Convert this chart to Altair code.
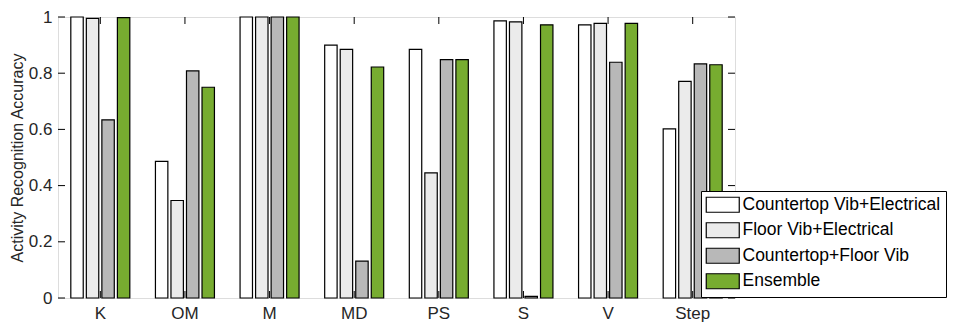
import altair as alt
import pandas as pd

categories = ["K", "OM", "M", "MD", "PS", "S", "V", "Step"]
series = ["Countertop Vib+Electrical", "Floor Vib+Electrical", "Countertop+Floor Vib", "Ensemble"]
colors = ["#ffffff", "#ebebeb", "#b8b8b8", "#77ac30"]

countertop_elec = [1.0, 0.486, 1.0, 0.900, 0.885, 0.986, 0.972, 0.602]
floor_elec = [0.995, 0.347, 1.0, 0.885, 0.445, 0.983, 0.977, 0.771]
counter_floor = [0.634, 0.808, 1.0, 0.131, 0.848, 0.006, 0.839, 0.833]
ensemble = [0.998, 0.750, 1.0, 0.822, 0.848, 0.972, 0.977, 0.830]

y_ticks = [0, 0.2, 0.4, 0.6, 0.8, 1.0]

LEFT, TOP = 58, 17
W, H = 677, 281
TICK = 7

rows = []
for s, vals in zip(series, [countertop_elec, floor_elec, counter_floor, ensemble]):
    for c, v in zip(categories, vals):
        rows.append({"cat": c, "series": s, "value": v})
df = pd.DataFrame(rows)
cat_df = pd.DataFrame({"cat": categories})
yt_df = pd.DataFrame({"v": y_ticks})

xscale = alt.Scale(domain=categories, paddingInner=0, paddingOuter=0)
yscale = alt.Scale(domain=[0, 1], nice=False)

bars = alt.Chart(df).mark_bar(stroke="black", strokeWidth=1.2).encode(
    x=alt.X("cat:N", scale=xscale, sort=categories,
            axis=alt.Axis(title=None, labelAngle=0, labelAlign="center", labelBaseline="top",
                          ticks=False, domain=False,
                          labelFontSize=17, labelPadding=7, labelColor="#262626")),
    xOffset=alt.XOffset("series:N", sort=series,
                        scale=alt.Scale(domain=series, paddingInner=0.2, paddingOuter=0.825)),
    y=alt.Y("value:Q", scale=yscale,
            axis=alt.Axis(title="Activity Recognition Accuracy", values=y_ticks,
                          ticks=False, domain=False, grid=False,
                          labelExpr="datum.value == 0 ? '0' : datum.value == 1 ? '1' : format(datum.value, '.1f')",
                          labelFontSize=17, labelPadding=6, labelColor="#262626",
                          titleFontSize=16, titleFontWeight="normal", titlePadding=3,
                          titleColor="#262626")),
    color=alt.Color("series:N", sort=series,
                    scale=alt.Scale(domain=series, range=colors),
                    legend=alt.Legend(title=None, orient="none", legendX=701 - LEFT, legendY=191 - TOP,
                                      fillColor="white", strokeColor="black", padding=5,
                                      symbolType="M-2.2,-1L2.2,-1L2.2,1L-2.2,1Z",
                                      symbolSize=225, symbolStrokeColor="black",
                                      symbolStrokeWidth=1.2, symbolOffset=8,
                                      labelFontSize=17.5, labelOffset=11, rowPadding=4.5,
                                      labelColor="black", labelLimit=400)),
)

x_top = alt.Chart(cat_df).mark_rule(color="black", strokeWidth=1).encode(
    x=alt.X("cat:N", scale=xscale, sort=categories, bandPosition=0.5),
    y=alt.value(0), y2=alt.value(TICK))
x_bot = alt.Chart(cat_df).mark_rule(color="black", strokeWidth=1).encode(
    x=alt.X("cat:N", scale=xscale, sort=categories, bandPosition=0.5),
    y=alt.value(H - TICK), y2=alt.value(H))
y_left = alt.Chart(yt_df).mark_rule(color="black", strokeWidth=1).encode(
    y=alt.Y("v:Q", scale=yscale), x=alt.value(0), x2=alt.value(TICK))
y_right = alt.Chart(yt_df).mark_rule(color="black", strokeWidth=1).encode(
    y=alt.Y("v:Q", scale=yscale), x=alt.value(W - TICK), x2=alt.value(W))

chart = alt.layer(x_bot, bars, x_top, y_left, y_right).properties(
    width=W, height=H,
    autosize=alt.AutoSizeParams(type="none"),
    padding={"left": LEFT - 8, "top": TOP - 8, "right": 948 - LEFT - W, "bottom": 26},
).configure_view(stroke="black", strokeWidth=1.2).configure(
    font="Liberation Sans"
)

chart.save("out.html", embed_options={"renderer": "svg", "actions": False})
